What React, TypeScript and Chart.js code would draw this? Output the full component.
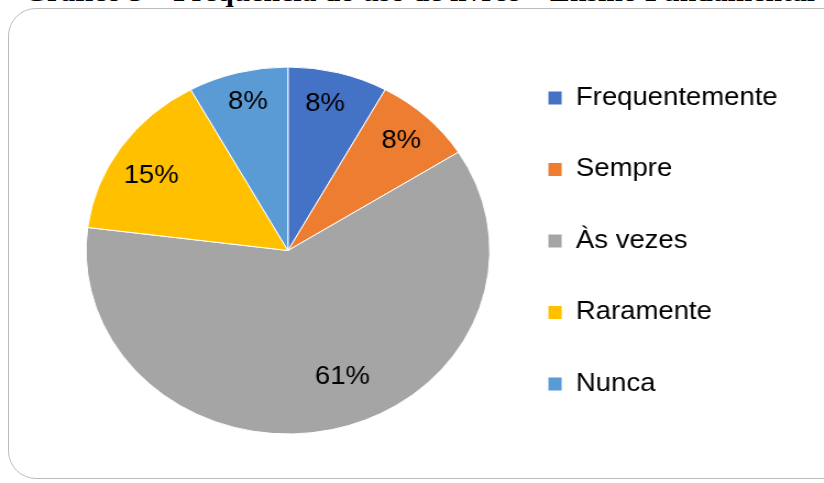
import React, { useEffect, useRef } from "react";
import { Chart, registerables } from "chart.js";

Chart.register(...registerables);

const TITLE = "Gráfico 5 – Frequência do uso de livros – Ensino Fundamental";
const categories = ["Frequentemente", "Sempre", "Às vezes", "Raramente", "Nunca"];
const percentages = [8, 8, 61, 15, 8];
const sliceColors = ["#4472C4", "#ED7D31", "#A5A5A5", "#FFC000", "#5B9BD5"];

const SX = 1.1; // horizontal stretch of the picture
const CW = 824 / SX;
const CH = 483;
const FONT = '"Liberation Sans", Arial, sans-serif';

const pctLabels = {
  id: "pctLabels",
  afterDatasetsDraw(chart: any, _args: any, opts: any) {
    const ctx = chart.ctx;
    const meta = chart.getDatasetMeta(0);
    const data = chart.data.datasets[0].data;
    ctx.save();
    ctx.font = `25px ${FONT}`;
    ctx.fillStyle = "#000";
    ctx.textAlign = "center";
    ctx.textBaseline = "middle";
    meta.data.forEach((arc: any, i: number) => {
      const p = arc.getProps(["x", "y", "startAngle", "endAngle", "outerRadius"], true);
      const a = p.startAngle + (p.endAngle - p.startAngle) * opts.angleFrac[i];
      const r = p.outerRadius * opts.radiusFrac[i];
      ctx.fillText(`${data[i]}%`, p.x + Math.cos(a) * r, p.y + Math.sin(a) * r);
    });
    ctx.restore();
  },
};

export default function App() {
  const ref = useRef<HTMLCanvasElement | null>(null);

  useEffect(() => {
    if (!ref.current) return;
    const chart = new Chart(ref.current, {
      type: "pie",
      data: {
        labels: categories,
        datasets: [
          {
            data: percentages,
            backgroundColor: sliceColors,
            borderColor: "#ffffff",
            borderWidth: 1,
          },
        ],
      },
      options: {
        responsive: false,
        animation: false,
        events: [],
        radius: 183.5,
        layout: { padding: { top: 39, bottom: 21, left: 72, right: 32 } },
        plugins: {
          tooltip: { enabled: false },
          legend: {
            position: "right",
            align: "start",
            labels: {
              boxWidth: 13,
              boxHeight: 14,
              padding: 46.5,
              color: "#000",
              font: { family: FONT, size: 25 },
            },
          },
          pctLabels: {
            angleFrac: [0.45, 0.5, 0.46, 0.44, 0.52],
            radiusFrac: [0.82, 0.82, 0.74, 0.79, 0.83],
          },
        } as any,
      } as any,
      plugins: [pctLabels],
    });
    return () => chart.destroy();
  }, []);

  return (
    <div style={{ position: "absolute", left: 0, top: 0, width: 824, height: 483, overflow: "hidden", background: "#fff" }}>
      <div
        style={{
          position: "absolute",
          left: 8,
          top: 8,
          width: 850,
          height: 471,
          border: "1.5px solid #bcbcbc",
          borderRadius: 28,
          boxSizing: "border-box",
        }}
      />
      <div
        style={{
          position: "absolute",
          left: 24,
          top: -21,
          whiteSpace: "nowrap",
          fontFamily: '"Liberation Serif", "Times New Roman", serif',
          fontWeight: "bold",
          fontSize: 27,
          lineHeight: "27px",
          color: "#000",
          transform: `scaleX(${SX})`,
          transformOrigin: "0 0",
        }}
      >
        {TITLE}
      </div>
      <div
        style={{
          position: "absolute",
          left: 0,
          top: 0,
          width: CW,
          height: CH,
          transform: `scaleX(${SX})`,
          transformOrigin: "0 0",
        }}
      >
        <canvas ref={ref} width={CW} height={CH} style={{ display: "block" }} />
      </div>
    </div>
  );
}
